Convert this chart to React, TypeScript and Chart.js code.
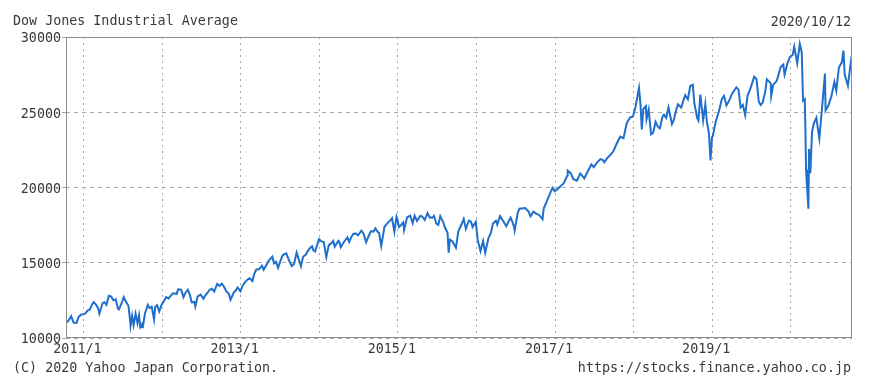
import React, { useEffect, useRef } from "react";
import { Chart, registerables } from "chart.js";

Chart.register(...registerables);

// ---- data (DJIA closes) ----
const START_DATE = "2010-10-12";
const END_DATE = "2020-10-12";

const DATES_2010 = ["10-12", "10-22", "11-05", "11-16", "11-30", "12-10", "12-22", "12-31"];
const CLOSE_2010 = [11020, 11133, 11444, 11023, 11006, 11410, 11559, 11578];

const DATES_2011 = ["01-10", "01-20", "01-31", "02-10", "02-18", "02-28", "03-10", "03-16", "03-31", "04-08", "04-18", "04-29", "05-10", "05-20", "05-31", "06-10", "06-15", "06-30", "07-07", "07-15", "07-29", "08-04", "08-08", "08-15", "08-22", "08-31", "09-09", "09-16", "09-22", "09-30", "10-03", "10-14", "10-27", "11-04", "11-14", "11-25", "11-30", "12-09", "12-19", "12-30"];
const CLOSE_2011 = [11637, 11823, 11892, 12230, 12391, 12226, 11984, 11613, 12320, 12380, 12202, 12811, 12760, 12512, 12570, 11952, 11897, 12414, 12719, 12480, 12143, 11384, 10810, 11482, 10855, 11614, 10992, 11509, 10734, 10913, 10655, 11644, 12209, 11983, 12079, 11231, 12046, 12184, 11766, 12218];

const DATES_2012 = ["01-10", "01-20", "01-31", "02-10", "02-21", "02-29", "03-09", "03-16", "03-30", "04-10", "04-20", "04-30", "05-10", "05-18", "05-31", "06-04", "06-15", "06-29", "07-12", "07-20", "07-31", "08-10", "08-20", "08-31", "09-14", "09-25", "10-05", "10-15", "10-26", "11-07", "11-15", "11-30", "12-10", "12-18", "12-31"];
const CLOSE_2012 = [12462, 12720, 12633, 12801, 12966, 12952, 12922, 13232, 13212, 12716, 13029, 13214, 12855, 12369, 12393, 12101, 12767, 12880, 12605, 12822, 13009, 13207, 13271, 13090, 13593, 13457, 13610, 13424, 13107, 12933, 12542, 13025, 13169, 13350, 13104];

const DATES_2013 = ["01-10", "01-18", "01-31", "02-11", "02-25", "03-05", "03-14", "03-28", "04-10", "04-18", "04-30", "05-10", "05-28", "06-05", "06-14", "06-24", "07-05", "07-15", "07-23", "08-01", "08-15", "08-27", "09-06", "09-18", "09-30", "10-08", "10-18", "10-31", "11-08", "11-21", "11-29", "12-05", "12-13", "12-31"];
const CLOSE_2013 = [13471, 13649, 13861, 13971, 13784, 14254, 14539, 14579, 14802, 14537, 14840, 15118, 15409, 14960, 15070, 14659, 15135, 15484, 15567, 15628, 15112, 14776, 14922, 15676, 15130, 14776, 15400, 15546, 15762, 16009, 16086, 15821, 15755, 16577];

const DATES_2014 = ["01-10", "01-22", "02-03", "02-14", "02-28", "03-07", "03-14", "03-31", "04-04", "04-11", "04-25", "05-12", "05-20", "05-30", "06-09", "06-20", "06-30", "07-16", "07-25", "08-07", "08-15", "08-29", "09-10", "09-19", "09-30", "10-06", "10-16", "10-31", "11-14", "11-28", "12-05", "12-16", "12-26", "12-31"];
const CLOSE_2014 = [16437, 16373, 15373, 16154, 16322, 16452, 16066, 16458, 16413, 16027, 16362, 16695, 16375, 16717, 16924, 16948, 16827, 17138, 16960, 16368, 16663, 17098, 17068, 17280, 17043, 16991, 16117, 17391, 17634, 17828, 17958, 17068, 18053, 17823];

const DATES_2015 = ["01-06", "01-16", "01-26", "01-30", "02-13", "02-27", "03-06", "03-11", "03-20", "03-31", "04-15", "04-24", "05-06", "05-19", "05-29", "06-10", "06-18", "06-29", "07-08", "07-17", "07-31", "08-07", "08-20", "08-25", "08-31", "09-11", "09-28", "10-09", "10-22", "11-03", "11-13", "11-27", "12-07", "12-14", "12-29"];
const CLOSE_2015 = [17371, 17511, 17678, 17165, 18019, 18133, 17856, 17635, 18128, 17776, 18112, 18080, 17841, 18312, 18011, 18000, 18115, 17596, 17515, 18086, 17690, 17373, 16990, 15666, 16528, 16433, 16001, 17084, 17489, 17918, 17245, 17798, 17730, 17368, 17720];

const DATES_2016 = ["01-07", "01-20", "02-01", "02-11", "02-26", "03-08", "03-18", "04-01", "04-07", "04-20", "05-06", "05-19", "06-08", "06-16", "06-24", "06-27", "07-12", "07-20", "08-15", "08-31", "09-09", "09-22", "10-06", "10-20", "11-04", "11-09", "11-22", "12-07", "12-20", "12-30"];
const CLOSE_2016 = [16515, 15766, 16449, 15660, 16640, 16964, 17602, 17792, 17541, 18096, 17740, 17435, 18005, 17733, 17400, 17140, 18347, 18595, 18636, 18400, 18085, 18392, 18268, 18162, 17888, 18589, 19023, 19549, 19974, 19762];

const DATES_2017 = ["01-10", "01-25", "02-10", "02-28", "03-01", "03-15", "03-27", "04-13", "04-28", "05-17", "05-31", "06-19", "06-30", "07-14", "07-31", "08-10", "08-18", "08-31", "09-12", "09-29", "10-13", "10-31", "11-15", "11-30", "12-15", "12-29"];
const CLOSE_2017 = [19855, 20069, 20269, 20812, 21116, 20950, 20550, 20453, 20941, 20606, 21009, 21528, 21350, 21638, 21891, 21844, 21675, 21948, 22119, 22405, 22872, 23377, 23271, 24272, 24652, 24719];

const DATES_2018 = ["01-10", "01-19", "01-26", "02-02", "02-08", "02-15", "02-27", "03-02", "03-12", "03-23", "04-02", "04-13", "04-24", "05-03", "05-15", "05-22", "06-01", "06-12", "06-28", "07-06", "07-17", "07-26", "08-10", "08-21", "08-29", "09-10", "09-21", "10-03", "10-10", "10-24", "10-29", "11-07", "11-20", "11-30", "12-07", "12-17", "12-24", "12-31"];
const CLOSE_2018 = [25370, 26072, 26617, 25521, 23860, 25200, 25410, 24538, 25179, 23533, 23644, 24360, 24024, 23930, 24706, 24835, 24635, 25320, 24216, 24456, 25119, 25527, 25313, 25822, 26125, 25857, 26743, 26828, 25598, 24583, 24443, 26180, 24465, 25538, 24389, 23592, 21792, 23327];

const DATES_2019 = ["01-04", "01-17", "01-31", "02-15", "02-25", "03-08", "03-20", "04-03", "04-23", "05-03", "05-13", "05-23", "06-03", "06-14", "06-28", "07-15", "07-26", "08-05", "08-14", "08-23", "09-04", "09-12", "09-30", "10-02", "10-11", "10-28", "11-15", "11-27", "12-03", "12-17", "12-27"];
const CLOSE_2019 = [23433, 24370, 24999, 25883, 26091, 25450, 25745, 26218, 26656, 26505, 25324, 25490, 24819, 26090, 26600, 27359, 27192, 25718, 25479, 25629, 26355, 27182, 26917, 26079, 26817, 27090, 28005, 28164, 27503, 28268, 28645];

const DATES_2020 = ["01-10", "01-17", "01-31", "02-12", "02-21", "02-27", "03-06", "03-09", "03-12", "03-16", "03-23", "03-26", "04-01", "04-09", "04-17", "04-29", "05-13", "05-27", "06-08", "06-11", "06-24", "07-08", "07-22", "07-31", "08-12", "08-26", "09-02", "09-08", "09-23", "10-05", "10-09", "10-12"];
const CLOSE_2020 = [28823, 29348, 28256, 29551, 28992, 25766, 25864, 23851, 21200, 20188, 18591, 22552, 20943, 23719, 24242, 24633, 23247, 25548, 27572, 25128, 25445, 26067, 27005, 26428, 27976, 28332, 29100, 27500, 26763, 28149, 28587, 28837];

const YEAR_GRID = [2011, 2012, 2013, 2014, 2015, 2016, 2017, 2018, 2019, 2020];
const YEAR_LABELS = [2011, 2013, 2015, 2017, 2019];
const Y_TICKS = [10000, 15000, 20000, 25000, 30000];

const TITLE = "Dow Jones Industrial Average";
const DATE_TEXT = "2020/10/12";
const COPYRIGHT = "(C) 2020 Yahoo Japan Corporation.";
const URL_TEXT = "https://stocks.finance.yahoo.co.jp";

const SERIES: [number, string[], number[]][] = [
  [2010, DATES_2010, CLOSE_2010],
  [2011, DATES_2011, CLOSE_2011],
  [2012, DATES_2012, CLOSE_2012],
  [2013, DATES_2013, CLOSE_2013],
  [2014, DATES_2014, CLOSE_2014],
  [2015, DATES_2015, CLOSE_2015],
  [2016, DATES_2016, CLOSE_2016],
  [2017, DATES_2017, CLOSE_2017],
  [2018, DATES_2018, CLOSE_2018],
  [2019, DATES_2019, CLOSE_2019],
  [2020, DATES_2020, CLOSE_2020],
];

const FONT_FAMILY = "'DejaVu Sans Mono', 'Liberation Mono', monospace";
const FONT_SIZE = 13.35;
const TEXT_COLOR = "#3a3a3a";
const LINE_COLOR = "#1f6fcc";
const GRID_COLOR = "#a8a8a8";
const FRAME_COLOR = "#8c8c8c";

function toYear(s: string): number {
  const [y, m, d] = s.split("-").map(Number);
  const a = Date.UTC(y, 0, 1);
  const b = Date.UTC(y + 1, 0, 1);
  const t = Date.UTC(y, m - 1, d);
  return y + (t - a) / (b - a);
}

export default function App() {
  const ref = useRef<HTMLCanvasElement>(null);

  useEffect(() => {
    const points: { x: number; y: number }[] = [];
    SERIES.forEach(([year, dates, closes]) => {
      const n = Math.min(dates.length, closes.length);
      for (let i = 0; i < n; i++) {
        points.push({ x: toYear(`${year}-${dates[i]}`), y: closes[i] });
      }
    });

    const framePlugin = {
      id: "frame",
      afterDatasetsDraw(chart: any) {
        const { ctx, chartArea: a } = chart;
        ctx.save();
        ctx.strokeStyle = FRAME_COLOR;
        ctx.lineWidth = 1;
        ctx.setLineDash([]);
        ctx.strokeRect(
          Math.round(a.left) + 0.5,
          Math.round(a.top) + 0.5,
          Math.round(a.right - a.left) - 1,
          Math.round(a.bottom - a.top) - 1
        );
        ctx.restore();
      },
    };

    const font = { family: FONT_FAMILY, size: FONT_SIZE };

    const chart = new Chart(ref.current as HTMLCanvasElement, {
      type: "line",
      data: {
        datasets: [
          {
            data: points,
            borderColor: LINE_COLOR,
            borderWidth: 2,
            pointRadius: 0,
            tension: 0,
            fill: false,
          },
        ],
      },
      options: {
        animation: false,
        responsive: false,
        devicePixelRatio: 1,
        layout: { padding: { left: 0, right: 18, top: 37, bottom: 0 } },
        plugins: {
          legend: { display: false },
          tooltip: { enabled: false },
          title: { display: false },
        },
        scales: {
          x: {
            type: "linear",
            min: toYear(START_DATE),
            max: toYear(END_DATE),
            afterBuildTicks: (scale: any) => {
              scale.ticks = YEAR_GRID.map((v) => ({ value: v }));
            },
            afterFit: (scale: any) => {
              scale.height = 53;
            },
            ticks: {
              autoSkip: false,
              maxRotation: 0,
              minRotation: 0,
              padding: 4,
              labelOffset: -6,
              color: TEXT_COLOR,
              font,
              callback: (v: any) => (YEAR_LABELS.includes(Number(v)) ? `${v}/1` : ""),
            },
            grid: { color: GRID_COLOR, drawTicks: false, lineWidth: 1 },
            border: { display: false, dash: [2, 4] },
          },
          y: {
            min: 10000,
            max: 30000,
            afterBuildTicks: (scale: any) => {
              scale.ticks = Y_TICKS.map((v) => ({ value: v }));
            },
            afterFit: (scale: any) => {
              scale.width = 66;
            },
            ticks: {
              padding: 1,
              labelOffset: 2,
              color: TEXT_COLOR,
              font,
              callback: (v: any) => String(v),
            },
            grid: { color: GRID_COLOR, drawTicks: true, tickLength: 4, lineWidth: 1 },
            border: { display: false, dash: [4, 4] },
          },
        },
      },
      plugins: [framePlugin],
    } as any);

    return () => chart.destroy();
  }, []);

  const textStyle: React.CSSProperties = {
    position: "absolute",
    fontFamily: FONT_FAMILY,
    fontSize: FONT_SIZE,
    lineHeight: "14px",
    color: TEXT_COLOR,
    whiteSpace: "pre",
  };

  return (
    <div style={{ position: "absolute", left: 0, top: 0, width: 870, height: 391, background: "#fff" }}>
      <canvas ref={ref} width={870} height={391} style={{ display: "block", width: 870, height: 391 }} />
      <div style={{ ...textStyle, left: 13, top: 14 }}>{TITLE}</div>
      <div style={{ ...textStyle, right: 19, top: 15 }}>{DATE_TEXT}</div>
      <div style={{ ...textStyle, left: 13, top: 361 }}>{COPYRIGHT}</div>
      <div style={{ ...textStyle, right: 19, top: 361 }}>{URL_TEXT}</div>
    </div>
  );
}
